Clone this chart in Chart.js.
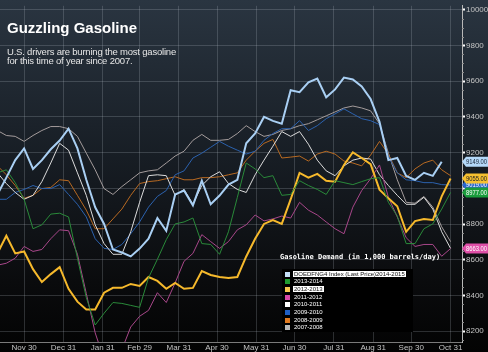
<!DOCTYPE html>
<html><head><meta charset="utf-8">
<script src="https://cdn.jsdelivr.net/npm/chart.js@4.4.0/dist/chart.umd.min.js"></script>
<style>
html,body{margin:0;padding:0;background:#000;}
#wrap{position:relative;width:488px;height:352px;overflow:hidden;}
#c{position:absolute;left:0;top:0;}
#title{position:absolute;left:7px;top:20px;font:bold 15px 'Liberation Sans',Arial,sans-serif;line-height:15px;color:#fff;white-space:nowrap;}
#sub{position:absolute;left:7px;top:47px;font:9.5px 'Liberation Sans',Arial,sans-serif;line-height:9px;letter-spacing:-0.2px;color:#e6e6e6;white-space:nowrap;}
#legtitle{position:absolute;left:280px;top:253px;font:bold 7px 'DejaVu Sans Mono',monospace;line-height:8px;color:#fff;white-space:nowrap;}
#legend{position:absolute;left:282px;top:269px;width:131px;height:63px;background:#000;}
.row{position:absolute;left:3px;height:7px;line-height:7px;font:6px 'Liberation Sans',Arial,sans-serif;color:#fff;white-space:nowrap;}
.sw{position:absolute;left:0;top:1px;width:5px;height:5px;}
.lt{position:absolute;left:8px;top:0;padding:0 1px;}
.lt.sel{background:#fff;color:#111;}
</style></head>
<body><div id="wrap">
<canvas id="c" width="488" height="352"></canvas>
<div id="title">Guzzling Gasoline</div>
<div id="sub">U.S. drivers are burning the most gasoline<br>for this time of year since 2007.</div>
<div id="legtitle">Gasoline Demand (in 1,000 barrels/day)</div>
<div id="legend"></div>
</div>
<script>
// ---- data ----
const monthLabels = ['Nov 30','Dec 31','Jan 31','Feb 29','Mar 31','Apr 30','May 31','Jun 30','Jul 31','Aug 31','Sep 30','Oct 31'];
const monthDays = [19,50,81,110,141,171,202,232,263,294,324,355]; // day offsets from Nov 11
const yTicks = [8200,8400,8600,8800,9000,9200,9400,9600,9800,10000];
const firstWeekDay = -2; // day offset of first weekly reading
const weekStep = 7;

const s2014_2015 = [8966,9060,9158,9224,9109,9158,9219,9268,9334,9224,9048,8894,8801,8658,8641,8619,8663,8718,8834,8762,8966,8988,8905,9043,8911,8960,9021,9048,9252,9307,9400,9378,9362,9549,9538,9593,9615,9510,9554,9620,9610,9571,9500,9373,9158,9170,9070,9048,9087,9070,9149];
const s2013_2014 = [9087,9104,9032,8939,8774,8796,8856,8861,8840,8609,8389,8235,8301,8361,8356,8345,8334,8499,8603,8713,8801,8812,8834,8691,8686,8631,8757,8950,9142,9109,9060,9071,8961,8966,9043,9016,8994,8966,9043,9032,9021,9038,9054,9060,8922,8845,8691,8691,8774,8801,8884,8977];
const s2012_2013 = [8636,8735,8636,8647,8548,8476,8520,8559,8438,8366,8322,8322,8416,8443,8443,8465,8454,8504,8482,8438,8471,8438,8443,8537,8515,8504,8498,8504,8619,8718,8801,8823,8801,8938,9087,9060,9081,9043,9037,9131,9202,9170,9136,8993,8944,8900,8757,8817,8828,8823,8955,9055];
const s2011_2012 = [8570,8581,8609,8675,8647,8658,8718,8768,8763,8631,8411,8191,8042,7960,8097,8224,8284,8317,8416,8361,8471,8592,8636,8741,8702,8664,8702,8768,8796,8851,8818,8829,8845,8834,8922,8878,8851,8812,8774,8746,8895,8988,9054,9131,8950,8840,8724,8675,8686,8686,8620,8663];
const s2010_2011 = [9087,9027,8977,8939,8961,9038,9142,9252,9214,9087,8961,8796,8691,8631,8631,8757,8922,9071,9076,9071,8961,8994,8911,9016,9065,9093,9027,8994,8977,9076,9158,9236,9318,9291,9318,9247,9158,9098,9071,9126,9158,9170,9164,9076,9016,8961,8911,8911,8950,8884,8757,8664];
const s2009_2010 = [8939,8939,8977,8994,9016,8999,8999,9021,8966,8911,8840,8718,8664,8658,8686,8746,8812,8895,8955,8988,9076,9098,9170,9197,9230,9263,9236,9214,9192,9208,9269,9307,9334,9334,9379,9324,9351,9390,9417,9445,9417,9390,9379,9357,9181,9087,9048,9043,9032,9032,9021,9019];
const s2008_2009 = [9126,9076,9016,8944,8961,8999,9005,9048,9043,8961,8878,8774,8774,8829,8884,8961,9027,9038,9043,9054,9065,9048,9048,9060,9060,9065,9076,9087,9158,9208,9252,9274,9170,9175,9181,9153,9192,9208,9192,9153,9142,9126,9186,9263,9192,9087,9060,9109,9142,9158,9104,9071];
const s2007_2008 = [9324,9296,9291,9263,9296,9324,9346,9346,9334,9291,9197,9104,8999,8966,9010,9048,9087,9098,9104,9142,9181,9208,9269,9302,9269,9269,9274,9307,9351,9318,9291,9302,9324,9334,9351,9362,9384,9406,9428,9450,9461,9450,9434,9362,9197,9048,8922,8917,8955,8895,8785,8702];

const seriesNames = ['DOEDFNG4 Index (Last Price)2014-2015','2013-2014','2012-2013','2011-2012','2010-2011','2009-2010','2008-2009','2007-2008'];
const seriesValues = [s2014_2015,s2013_2014,s2012_2013,s2011_2012,s2010_2011,s2009_2010,s2008_2009,s2007_2008];

// ---- styles ----
const lineColors = ['#a9cff3','#2a8a3a','#f6b92c','#a8478a','#dcdcdc','#2c62ae','#b86a22','#a49c9c'];
const swatchColors = ['#c4def8','#1f9a30','#f7c850','#d848a8','#ffffff','#1f5fc4','#e07a20','#b8b8b8'];
const lineWidths = [2,1,2,1,1,1,1,1];
const selectedRows = [0,2];
const tagStyles = {5:['#2a66cc','#fff'],1:['#1a9c3c','#fff'],2:['#f6c030','#222'],0:['#b4d8f8','#1a2536'],3:['#e050a8','#fff']};
const tagOrder = [5,1,2,0,3];

// legend (HTML)
const leg = document.getElementById('legend');
seriesNames.forEach((n,i)=>{
  const r=document.createElement('div'); r.className='row'; r.style.top=(1.5+i*7.7)+'px';
  const sw=document.createElement('div'); sw.className='sw'; sw.style.background=swatchColors[i];
  const t=document.createElement('div'); t.className='lt'+(selectedRows.includes(i)?' sel':''); t.textContent=n;
  r.appendChild(sw); r.appendChild(t); leg.appendChild(r);
});

const datasets = seriesValues.map((arr,i)=>({
  label: seriesNames[i],
  data: arr.map((v,j)=>({x:firstWeekDay+weekStep*j, y:v})),
  borderColor: lineColors[i], borderWidth: lineWidths[i],
  pointRadius:0, tension:0, fill:false, clip:0
}));

const gridColor='rgba(185,195,205,0.22)';

const bgPlugin={id:'bg',beforeDraw(c){const ctx=c.ctx;const g=ctx.createLinearGradient(0,0,0,c.height);
  g.addColorStop(0,'#2a3541');g.addColorStop(0.45,'#171d24');g.addColorStop(0.8,'#0a0b0d');g.addColorStop(1,'#030303');
  ctx.save();ctx.fillStyle=g;ctx.fillRect(0,0,c.width,c.height);ctx.restore();}};

const tagPlugin={id:'tags',afterDraw(c){
  const ctx=c.ctx, ys=c.scales.y, x0=c.chartArea.right;
  ctx.save();
  // minor ticks
  ctx.strokeStyle='#8a8a8a';ctx.lineWidth=1;
  for(let v=8150; v<=10000; v+=50){ if(v%200===0) continue; const y=Math.round(ys.getPixelForValue(v))+0.5; ctx.beginPath();ctx.moveTo(x0,y);ctx.lineTo(x0+2,y);ctx.stroke(); }
  tagOrder.forEach(i=>{
    const arr=seriesValues[i]; const v=arr[arr.length-1]; const y=ys.getPixelForValue(v);
    const [bg,fg]=tagStyles[i]; const h=10;
    ctx.beginPath();ctx.moveTo(x0,y);ctx.lineTo(x0+4,y-h/2);ctx.lineTo(c.width+2,y-h/2);ctx.lineTo(c.width+2,y+h/2);ctx.lineTo(x0+4,y+h/2);ctx.closePath();
    ctx.fillStyle=bg;ctx.fill();
    ctx.fillStyle=fg;ctx.font="7px 'Liberation Sans', Arial, sans-serif";ctx.textBaseline='middle';ctx.textAlign='left';
    ctx.fillText(v.toFixed(2),x0+4,y+0.5,21);
  });
  ctx.restore();
}};

new Chart(document.getElementById('c'),{
  type:'line',
  data:{datasets},
  options:{
    responsive:false, animation:false, devicePixelRatio:1,
    layout:{padding:0},
    plugins:{legend:{display:false},tooltip:{enabled:false},title:{display:false}},
    scales:{
      x:{type:'linear',min:0,max:364,position:'bottom',
        afterBuildTicks:s=>{s.ticks=monthDays.map(v=>({value:v}));},
        afterFit:s=>{s.height=10;},
        ticks:{autoSkip:false,maxRotation:0,color:'#c4c4c4',padding:1,
          font:{family:"'Liberation Sans Narrow','Liberation Sans',Arial,sans-serif",size:8},
          callback:(v,i)=>monthLabels[i]},
        grid:{color:gridColor,tickLength:0,lineWidth:1},
        border:{color:'#7a7a7a',width:1}
      },
      y:{position:'right',min:8140,max:10022,
        afterBuildTicks:s=>{s.ticks=yTicks.map(v=>({value:v}));},
        afterFit:s=>{s.width=26;},
        ticks:{color:'#c4c4c4',padding:1,
          font:{family:"'Liberation Sans Narrow','Liberation Sans',Arial,sans-serif",size:8},
          callback:v=>String(v)},
        grid:{color:gridColor,tickColor:'#ffffff',tickLength:3,tickWidth:2,lineWidth:1},
        border:{color:'#b8b8b8',width:1}
      }
    }
  },
  plugins:[bgPlugin,tagPlugin]
});
</script>
</body></html>
